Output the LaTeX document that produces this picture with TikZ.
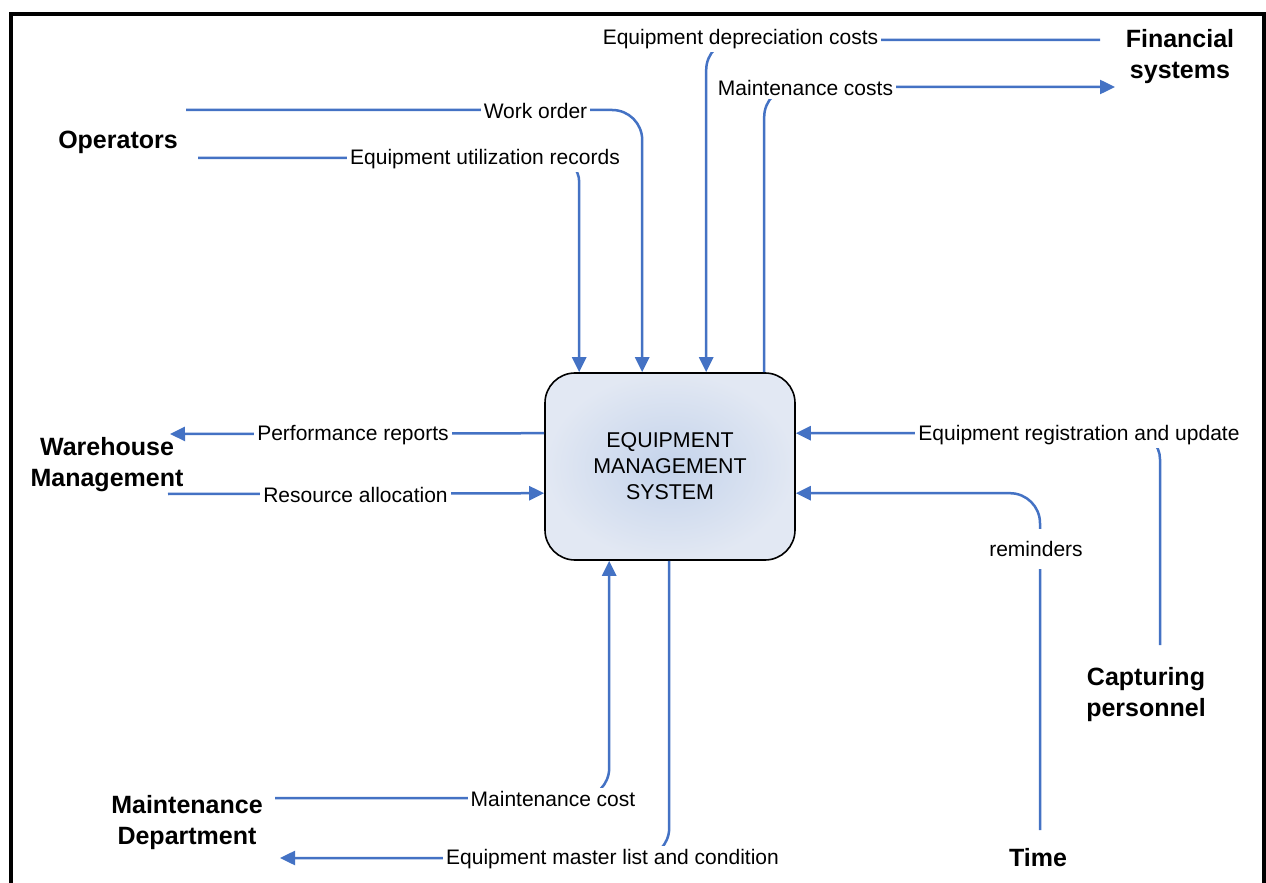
\documentclass[tikz,border=0pt]{standalone}
\usepackage{fontspec}
\setmainfont{Liberation Sans}
\usetikzlibrary{arrows.meta}
\definecolor{flowblue}{RGB}{68,114,196}
\definecolor{boxin}{RGB}{196,211,235}
\definecolor{boxout}{RGB}{226,232,243}
\begin{document}
\begin{tikzpicture}[x=0.5pt,y=-0.5pt,
  flow/.style={draw=flowblue,line width=1.25pt,rounded corners=15pt},
  arr/.style={-{Triangle[length=7.5pt,width=7pt]}},
  lbl/.style={fill=white,inner xsep=1.5pt,inner ysep=1.5pt,font=\fontsize{10.5}{12}\selectfont},
  ent/.style={font=\fontsize{12.5}{15.5}\selectfont\bfseries,align=center},
  sysbox/.style={draw=black,line width=0.8pt,rounded corners=15pt,minimum width=125pt,minimum height=93.5pt,
    inner color=boxin,outer color=boxout,align=center,font=\fontsize{10.7}{13}\selectfont},
]
\useasboundingbox (0,0) rectangle (1266,883);
\fill[white] (0,0) rectangle (1266,883);
% frame
\draw[line width=2pt] (10.5,900) -- (10.5,14) -- (1263.5,14) -- (1263.5,900);

% central process
\node[sysbox] (ems) at (670,466.5) {EQUIPMENT\\MANAGEMENT\\SYSTEM};

% entities
\node[ent] (op) at (118,142) {Operators};
\node[ent] (fs) at (1180,57) {Financial\\systems};
\node[ent] (wm) at (107,465) {Warehouse\\Management};
\node[ent] (md) at (187,823) {Maintenance\\Department};
\node[ent] (tm) at (1038,858) {Time};
\node[ent] (cp) at (1146,695) {Capturing\\personnel};

% attachment points on the box
\path (ems.north west) ++(35,0) coordinate (t1);
\path (ems.north west) ++(98,0) coordinate (t2);
\path (ems.north west) ++(162,0) coordinate (t3);
\path (ems.north west) ++(220,0) coordinate (t4);
\path (ems.north west) ++(0,61) coordinate (l1);
\path (ems.north west) ++(0,121) coordinate (l2);
\path (ems.north east) ++(0,61) coordinate (r1);
\path (ems.north east) ++(0,121) coordinate (r2);
\path (ems.south west) ++(65,0) coordinate (b1);
\path (ems.south west) ++(125,0) coordinate (b2);

% free ends near the entities
\coordinate (wo) at (186,110);
\coordinate (eu) at (198,158);
\coordinate (dep) at (1100,40);
\coordinate (fin) at (1115,87);
\coordinate (wh1) at (170,434);
\coordinate (wh2) at (168,494);
\coordinate (cap) at (1160,645);
\coordinate (tim) at (1040,830);
\coordinate (md1) at (275,798);
\coordinate (md2) at (280,858);

% connectors
\draw[flow,arr] (wo) -| (t2);
\draw[flow,arr,rounded corners=12pt] (eu) -| (t1);
\draw[flow,arr] (dep) -| (t3);
\draw[flow,arr] (t4) |- (fin);
\draw[flow,arr] (l1) -- (wh1);
\draw[flow,arr] (wh2) -- (l2);
\draw[flow,arr,rounded corners=13pt] (cap) |- (r1);
\draw[flow,arr] (tim) |- (r2);
\draw[flow,arr] (md1) -| (b1);
\draw[flow,arr] (b2) |- (md2);

% connector labels
\node[lbl] (lwo) at (535.5,111) {Work order};
\node[lbl] (leu) at (485,159) {Equipment utilization records};
\node[lbl] (ldep) at (740.5,39.5) {Equipment depreciation costs};
\node[lbl] (lmc) at (805.5,88) {Maintenance costs};
\node[lbl] (lpr) at (353,435) {Performance reports};
\node[lbl] (lra) at (355.5,495) {Resource allocation};
\node[lbl] (lreg) at (1079,435) {Equipment registration and update};
\node[lbl,inner ysep=6pt] (lrem) at (1036,549) {reminders};
\node[lbl] (lmcost) at (553,799) {Maintenance cost};
\node[lbl] (lml) at (612.5,859) {Equipment master list and condition};
\end{tikzpicture}
\end{document}
